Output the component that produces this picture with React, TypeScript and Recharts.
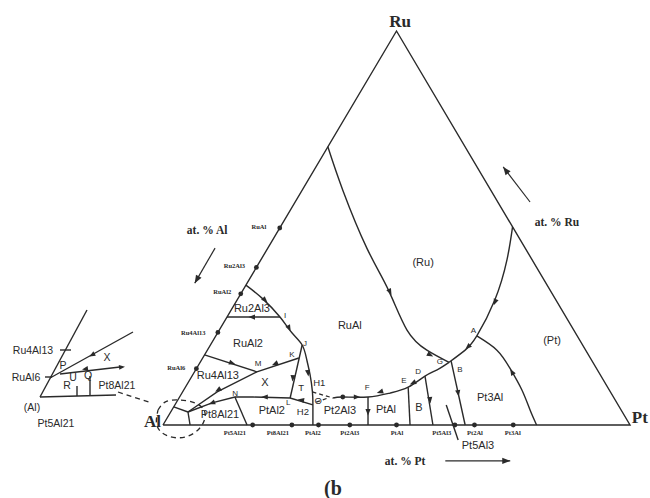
import React from "react";
import { ScatterChart, Scatter, XAxis, YAxis } from "recharts";

// compositions as [at.% Pt, at.% Ru]; Al is the balance
type Comp = [number, number];
// inset sketch units, x to the right, y downwards
type Pt2 = [number, number];

const triangleEdges: Comp[] = [[0, 0], [100, 0], [0, 100], [0, 0]];

// liquidus valleys (curved)
const ruAlRuCurve: Comp[] = [[0, 70.6], [8.7, 59.6], [21.2, 44.9], [31.1, 34.3], [40.2, 24.1], [47.0, 19.0], [53.3, 15.9]];
const ruPtCurve: Comp[] = [[49.7, 50.3], [52.7, 41.9], [55.2, 31.7], [55.9, 22.6], [55.2, 19.0], [53.3, 15.9]];
const pt3AlCurve: Comp[] = [[55.9, 22.6], [62.0, 19.0], [67.0, 14.5], [72.4, 8.9], [76.7, 3.8], [80.0, 0]];
const troughCurve: Comp[] = [[53.3, 15.9], [51.7, 14.0], [49.9, 12.4], [47.7, 9.6], [44.55, 8.1], [40.35, 7.1], [34.95, 7.1], [33.0, 6.85]];
const ruAl2Curve: Comp[] = [[0, 35.5], [5.1, 32.2], [11.35, 27.4], [15.9, 23.4], [19.65, 20.3], [22.55, 16.5], [25.15, 12.7], [27.8, 8.4], [29.55, 5.1], [32.1, 0]];

// straight valleys
const bLine: Comp[] = [[53.6, 16.2], [64.7, 0]];
const dLine: Comp[] = [[49.9, 12.4], [57.8, 0]];
const eLine: Comp[] = [[47.7, 9.6], [52.9, 0]];
const fLine: Comp[] = [[40.35, 7.1], [43.9, 0]];
const ru2Al3Line: Comp[] = [[0, 27.4], [11.35, 27.4]];
const ru4Al13Line: Comp[] = [[0, 17.8], [13.35, 13.5]];
const kmLine: Comp[] = [[20.6, 17.0], [13.35, 13.5], [7.4, 8.4], [3.7, 3.3]];
const jlLine: Comp[] = [[19.65, 20.3], [23.8, 6.85]];
const lnLine: Comp[] = [[29.55, 5.1], [23.8, 6.85], [15.75, 7.1], [11.85, 7.1], [7.7, 5.6], [3.7, 3.3]];
const nLine: Comp[] = [[11.85, 7.1], [18.0, 0]];
const yBaseLine: Comp[] = [[3.7, 3.3], [5.8, 0]];
const yEdgeLine: Comp[] = [[0, 4.6], [3.7, 3.3]];
const pt5Al3Leader: Comp[] = [[58.1, 5.1], [65.1, -3.8]];

// dashed
const h1Dash: Comp[] = [[27.8, 8.4], [33.0, 6.85]];
const oDash: Comp[] = [[29.9, 5.8], [31.9, 6.85]];
const alCornerRing: Comp[] = [[-2.97, 3.8], [-2.47, 5.8], [0.03, 6.35], [4.05, 5.6], [7.47, 3.05], [8.28, -0.76], [6.2, -3.05], [2.47, -2.8], [-1.15, -0.25], [-2.97, 3.8]];

// direction arrows: [where, towards]
const valleyArrows: [Comp, Comp][] = [
  [[31.7, 33.8], [36.4, 28.7]],
  [[48.3, 17.8], [51.05, 16.5]],
  [[55.5, 31.2], [56.05, 27.9]],
  [[55.4, 19.8], [54.45, 17.5]],
  [[68.0, 13.45], [65.0, 16.5]],
  [[59.15, 8.1], [61.05, 5.1]],
  [[54.0, 6.35], [55.5, 3.8]],
  [[48.2, 10.66], [46.2, 9.14]],
  [[42.3, 8.4], [40.5, 7.6]],
  [[37.95, 7.1], [39.75, 7.1]],
  [[42.25, 3.3], [43.25, 1.27]],
  [[6.0, 31.7], [8.35, 29.95]],
  [[14.7, 24.6], [16.4, 22.8]],
  [[24.45, 13.2], [25.85, 10.9]],
  [[5.36, 27.4], [3.2, 27.4]],
  [[21.85, 11.9], [22.9, 9.4]],
  [[16.25, 15.5], [15.15, 14.7]],
  [[6.95, 15.7], [9.0, 15.0]],
  [[7.35, 8.9], [6.26, 7.6]],
  [[18.25, 7.1], [16.55, 7.1]],
  [[26.4, 6.35], [25.0, 6.6]],
  [[7.7, 5.6], [6.4, 4.8]],
];

// at.% axis arrows: [from, to]
const axisArrows: [Comp, Comp][] = [
  [[-11.3, 44.9], [-11.2, 36.0]],
  [[50.3, 56.6], [40.1, 65.5]],
  [[65.0, -9.1], [78.9, -9.1]],
];

// compounds on the Al-Ru side
const alRuCompounds = ["RuAl", "Ru2Al3", "RuAl2", "Ru4Al13", "RuAl6"];
const alRuCompoundRu = [50, 40, 33.3, 23.5, 14.3];
const alRuLabelAt: Comp[] = [[-4.7, 50.5], [-5.0, 40.6], [-4.2, 33.8], [-5.3, 23.6], [-4.4, 14.5]];

// compounds on the Al-Pt side
const alPtCompounds = ["Pt5Al21", "Pt8Al21", "PtAl2", "Pt2Al3", "PtAl", "Pt5Al3", "Pt2Al", "Pt3Al"];
const alPtCompoundPt = [19.2, 27.6, 33.3, 40, 50, 62.5, 66.7, 75];
const alPtLabelPt = [16.3, 25.5, 33.0, 40.9, 51.0, 60.6, 67.7, 75.8];

const troughDots: Comp[] = [[34.95, 7.1]];

const cornerNames = ["Ru", "Pt", "Al"];
const cornerLabelAt: Comp[] = [[-0.45, 102.4], [101.1, 2.0], [-2.75, 1.0]];

const fieldNames = ["(Ru)", "(Pt)", "RuAl", "Ru2Al3", "RuAl2", "Ru4Al13", "X", "Pt2Al3", "PtAl2", "Pt8Al21", "PtAl", "B", "Pt3Al", "Pt5Al3"];
const fieldLabelAt: Comp[] = [[35.0, 41.4], [72.5, 21.6], [27.3, 25.4], [4.2, 29.7], [7.8, 20.8], [5.4, 12.7], [16.4, 10.9], [36.0, 3.8], [21.4, 3.8], [10.8, 2.8], [45.7, 4.1], [52.5, 4.6], [66.5, 7.1], [70.0, -5.1]];

const midNames = ["T", "H1", "H2", "O"];
const midLabelAt: Comp[] = [[24.8, 9.6], [28.0, 10.9], [28.3, 3.3], [30.2, 6.1]];

const pointNames = ["I", "J", "K", "M", "L", "N", "F", "E", "D", "G", "B", "A"];
const pointLabelAt: Comp[] = [[12.3, 27.7], [20.0, 20.8], [18.6, 18.0], [12.6, 15.5], [24.0, 5.6], [11.4, 8.1], [38.9, 9.6], [45.9, 11.4], [47.8, 13.7], [51.2, 16.2], [56.5, 14.2], [54.5, 23.9]];

const axisNames = ["at. % Al", "at. % Ru", "at. % Pt"];
const axisLabelAt: Comp[] = [[-15.3, 49.5], [58.6, 51.5], [56.4, -9.1]];
const panelName = "(b";
const panelAt: Comp = [44.4, -16.0];

// inset sketch of the Al corner
const insetLines: Pt2[][] = [
  [[40, 97], [87, 10]],
  [[40, 97], [116, 95]],
  [[50, 78], [133, 32]],
  [[60, 74], [120, 67]],
  [[90, 76], [90, 95]],
  [[77, 86], [77, 96]],
  [[60, 50], [71, 50]],
  [[45, 77], [52, 77]],
];
const insetDash: Pt2[] = [[118, 92], [152, 103]];
const insetArrows: [Pt2, Pt2][] = [
  [[92, 55], [85, 59]],
  [[85, 69], [78, 70]],
  [[122, 67], [127, 66.4]],
];
const insetNames = ["Ru4Al13", "RuAl6", "P", "X", "U", "Q", "R", "Pt8Al21", "(Al)", "Pt5Al21"];
const insetLabelAt: Pt2[] = [[33, 50], [26, 77], [63, 65], [107, 57], [73, 77], [88, 75], [67, 85], [117, 85], [32, 107], [56, 123]];

const X_MIN = -34.9;
const X_MAX = 104.28;
const Y_MIN = -18.53;
const Y_MAX = 107.87;
const KX = 650 / (X_MAX - X_MIN);
const KY = 498 / (Y_MAX - Y_MIN);

const INK = "#2a2a2a";
const SERIF = "'Liberation Serif', 'DejaVu Serif', serif";
const SANS = "'Liberation Sans', Arial, sans-serif";

const toXY = ([pt, ru]: Comp) => ({ x: pt + ru / 2, y: ru });
const fromSketch = ([x, y]: Pt2) => ({ x, y });

const Blank = () => <g />;

const makeArrow = (kx: number, ky: number, len: number, half: number, tip: number) => (p: any) => {
  const { cx, cy, payload } = p;
  const ang = (Math.atan2((payload.ty - payload.y) * ky, (payload.tx - payload.x) * kx) * 180) / Math.PI;
  return (
    <path
      d={`M${tip},0 L${tip - len},${-half} L${tip - len},${half} Z`}
      fill={INK}
      transform={`translate(${cx},${cy}) rotate(${ang})`}
    />
  );
};

const makeText = (size: number, family: string, weight: number | string) => (p: any) => (
  <text
    x={p.cx}
    y={p.cy}
    textAnchor="middle"
    dominantBaseline="central"
    fontSize={size}
    fontFamily={family}
    fontWeight={weight}
    fill={INK}
  >
    {p.payload.text}
  </text>
);

const Dot = (p: any) => <circle cx={p.cx} cy={p.cy} r={2.4} fill={INK} />;

const curvedPaths = [ruAlRuCurve, ruPtCurve, pt3AlCurve, troughCurve, ruAl2Curve];
const straightPaths = [triangleEdges, bLine, dLine, eLine, fLine, ru2Al3Line, ru4Al13Line, kmLine, jlLine, lnLine, nLine, yBaseLine, yEdgeLine, pt5Al3Leader];
const dashedPaths = [h1Dash, oDash];

const labelData = (names: string[], at: Comp[]) => names.map((text, i) => ({ ...toXY(at[i]), text }));
const arrowData = (pairs: [Comp, Comp][]) =>
  pairs.map(([a, b]) => {
    const to = toXY(b);
    return { ...toXY(a), tx: to.x, ty: to.y };
  });

const mainArrow = makeArrow(KX, -KY, 6.5, 2.6, 3.5);
const axisHead = makeArrow(KX, -KY, 8, 3.2, 0);
const insetArrow = makeArrow(1, 1, 6, 2.5, 3);

export default function App() {
  const compoundDots = [
    ...alRuCompoundRu.map((ru) => toXY([0, ru])),
    ...alPtCompoundPt.map((pt) => toXY([pt, 0])),
    ...troughDots.map(toXY),
  ];
  const compoundLabels = [
    ...labelData(alRuCompounds, alRuLabelAt),
    ...alPtCompounds.map((text, i) => ({ ...toXY([alPtLabelPt[i], -1.8]), text })),
  ];
  const axisHeads = axisArrows.map(([a, b]) => {
    const end = toXY(b);
    const start = toXY(a);
    return { ...end, tx: 2 * end.x - start.x, ty: 2 * end.y - start.y };
  });

  return (
    <div style={{ position: "absolute", left: 0, top: 0, width: 650, height: 498, background: "#fff" }}>
      <div style={{ position: "absolute", left: 0, top: 0 }}>
        <ScatterChart width={650} height={498} margin={{ top: 0, right: 0, bottom: 0, left: 0 }}>
          <XAxis type="number" dataKey="x" domain={[X_MIN, X_MAX]} hide allowDataOverflow />
          <YAxis type="number" dataKey="y" domain={[Y_MIN, Y_MAX]} hide allowDataOverflow />

          {straightPaths.map((pts, i) => (
            <Scatter
              key={`s${i}`}
              data={pts.map(toXY)}
              fill={INK}
              line={{ stroke: INK, strokeWidth: 1.4 }}
              lineJointType="linear"
              shape={Blank}
              isAnimationActive={false}
            />
          ))}
          {curvedPaths.map((pts, i) => (
            <Scatter
              key={`c${i}`}
              data={pts.map(toXY)}
              fill={INK}
              line={{ stroke: INK, strokeWidth: 1.4 }}
              lineJointType="natural"
              shape={Blank}
              isAnimationActive={false}
            />
          ))}
          {dashedPaths.map((pts, i) => (
            <Scatter
              key={`d${i}`}
              data={pts.map(toXY)}
              fill={INK}
              line={{ stroke: INK, strokeWidth: 1.3, strokeDasharray: "4 3" }}
              lineJointType="linear"
              shape={Blank}
              isAnimationActive={false}
            />
          ))}
          <Scatter
            data={alCornerRing.map(toXY)}
            fill={INK}
            line={{ stroke: INK, strokeWidth: 1.3, strokeDasharray: "5 4" }}
            lineJointType="natural"
            shape={Blank}
            isAnimationActive={false}
          />
          {axisArrows.map((pair, i) => (
            <Scatter
              key={`a${i}`}
              data={pair.map(toXY)}
              fill={INK}
              line={{ stroke: INK, strokeWidth: 1.2 }}
              lineJointType="linear"
              shape={Blank}
              isAnimationActive={false}
            />
          ))}

          <Scatter data={compoundDots} shape={Dot} isAnimationActive={false} />
          <Scatter data={arrowData(valleyArrows)} shape={mainArrow} isAnimationActive={false} />
          <Scatter data={axisHeads} shape={axisHead} isAnimationActive={false} />

          <Scatter data={compoundLabels} shape={makeText(6.5, SERIF, 700)} isAnimationActive={false} />
          <Scatter data={labelData(fieldNames, fieldLabelAt)} shape={makeText(11, SANS, 400)} isAnimationActive={false} />
          <Scatter data={labelData(midNames, midLabelAt)} shape={makeText(9.5, SANS, 400)} isAnimationActive={false} />
          <Scatter data={labelData(pointNames, pointLabelAt)} shape={makeText(8, SANS, 400)} isAnimationActive={false} />
          <Scatter data={labelData(cornerNames, cornerLabelAt)} shape={makeText(17, SERIF, 700)} isAnimationActive={false} />
          <Scatter data={labelData(axisNames, axisLabelAt)} shape={makeText(11.5, SERIF, 700)} isAnimationActive={false} />
          <Scatter data={[{ ...toXY(panelAt), text: panelName }]} shape={makeText(20, SERIF, 700)} isAnimationActive={false} />
        </ScatterChart>
      </div>

      <div style={{ position: "absolute", left: 0, top: 300 }}>
        <ScatterChart width={160} height={140} margin={{ top: 0, right: 0, bottom: 0, left: 0 }}>
          <XAxis type="number" dataKey="x" domain={[0, 160]} hide allowDataOverflow />
          <YAxis type="number" dataKey="y" domain={[0, 140]} hide reversed allowDataOverflow />
          {insetLines.map((pts, i) => (
            <Scatter
              key={`i${i}`}
              data={pts.map(fromSketch)}
              fill={INK}
              line={{ stroke: INK, strokeWidth: 1.4 }}
              lineJointType="linear"
              shape={Blank}
              isAnimationActive={false}
            />
          ))}
          <Scatter
            data={insetDash.map(fromSketch)}
            fill={INK}
            line={{ stroke: INK, strokeWidth: 1.3, strokeDasharray: "5 4" }}
            lineJointType="linear"
            shape={Blank}
            isAnimationActive={false}
          />
          <Scatter
            data={insetArrows.map(([a, b]) => ({ x: a[0], y: a[1], tx: b[0], ty: b[1] }))}
            shape={insetArrow}
            isAnimationActive={false}
          />
          <Scatter
            data={insetNames.map((text, i) => ({ ...fromSketch(insetLabelAt[i]), text }))}
            shape={makeText(10.5, SANS, 400)}
            isAnimationActive={false}
          />
        </ScatterChart>
      </div>
    </div>
  );
}
